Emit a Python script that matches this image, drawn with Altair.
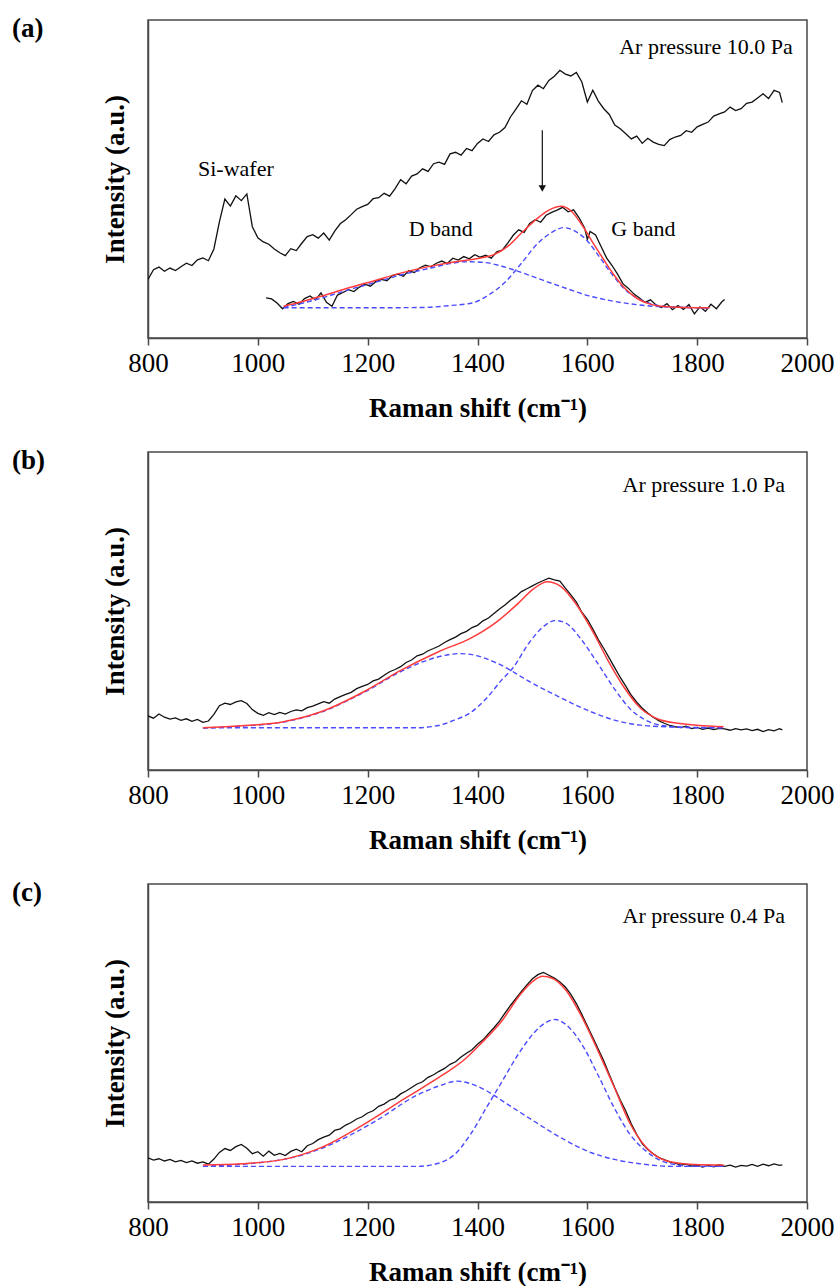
import altair as alt
import pandas as pd

# ---------------- Panel (a): Ar pressure 10.0 Pa ----------------
a_top_x = [800, 810, 820, 830, 840, 850, 860, 870, 880, 890, 900, 910, 920, 930, 940, 950, 960, 970, 980, 990,
           1000, 1010, 1020, 1030, 1040, 1050, 1060, 1070, 1080, 1090, 1100, 1110, 1120, 1130, 1140, 1150, 1160,
           1170, 1180, 1190, 1200, 1210, 1220, 1230, 1240, 1250, 1260, 1270, 1280, 1290, 1300, 1310, 1320, 1330,
           1340, 1350, 1360, 1370, 1380, 1390, 1400, 1410, 1420, 1430, 1440, 1450, 1460, 1470, 1480, 1490, 1500,
           1510, 1520, 1530, 1540, 1550, 1560, 1570, 1580, 1590, 1600, 1610, 1620, 1630, 1640, 1650, 1660, 1670,
           1680, 1690, 1700, 1710, 1720, 1730, 1740, 1750, 1760, 1770, 1780, 1790, 1800, 1810, 1820, 1830, 1840,
           1850, 1860, 1870, 1880, 1890, 1900, 1910, 1920, 1930, 1940, 1950, 1955]
a_top_y = [18.4, 21.5, 22.3, 21.0, 22.0, 21.2, 22.4, 23.5, 22.8, 24.6, 25.2, 24.3, 28.0, 36.5, 43.7, 41.5, 44.7,
           43.2, 45.3, 35.0, 31.5, 30.2, 29.5, 28.0, 26.8, 25.9, 28.1, 27.5, 29.8, 31.9, 32.5, 31.4, 33.0, 30.8,
           33.6, 35.9, 37.2, 38.8, 40.5, 41.3, 42.0, 43.8, 44.1, 45.5, 44.6, 47.0, 49.8, 48.5, 50.9, 51.6, 53.2,
           52.4, 54.8, 55.3, 54.6, 57.9, 58.4, 57.5, 59.6, 58.9, 61.2, 62.6, 61.8, 63.9, 64.7, 66.2, 69.5, 72.0,
           74.6, 73.5, 77.8, 79.5, 78.4, 81.0, 82.3, 84.2, 83.0, 82.4, 83.5, 80.5, 74.2, 77.9, 74.5, 72.1, 70.3,
           67.0, 65.8, 64.2, 62.6, 63.5, 61.2, 62.8, 61.6, 60.9, 60.5, 62.4, 63.2, 63.7, 65.2, 64.7, 66.4, 67.2,
           67.9, 69.8, 70.5, 71.1, 72.6, 71.5, 72.1, 73.8, 74.2, 75.5, 76.8, 75.3, 77.9, 77.2, 74.0]

a_low_x = [1015, 1025, 1035, 1045, 1055, 1065, 1075, 1085, 1095, 1105, 1115, 1125, 1135, 1145, 1155, 1165, 1175,
           1185, 1195, 1205, 1215, 1225, 1235, 1245, 1255, 1265, 1275, 1285, 1295, 1305, 1315, 1325, 1335, 1345,
           1355, 1365, 1375, 1385, 1395, 1405, 1415, 1425, 1435, 1445, 1455, 1465, 1475, 1485, 1495, 1505, 1515,
           1525, 1535, 1545, 1555, 1565, 1575, 1585, 1595, 1600, 1605, 1615, 1625, 1635, 1645, 1655, 1665, 1675,
           1685, 1695, 1705, 1715, 1725, 1735, 1745, 1755, 1765, 1775, 1785, 1795, 1805, 1815, 1825, 1835, 1845,
           1850]
a_low_y = [12.6, 12.3, 11.0, 9.2, 10.8, 11.5, 10.6, 12.4, 13.2, 12.0, 14.2, 11.2, 10.0, 13.5, 14.3, 15.2, 14.6,
           16.0, 16.9, 16.3, 17.8, 18.4, 18.0, 19.6, 20.1, 19.4, 21.2, 20.6, 22.1, 22.9, 22.4, 23.5, 24.2, 23.4,
           25.1, 24.5, 25.6, 24.9, 26.2, 25.4, 26.0, 25.1, 27.1, 27.6, 29.8, 32.3, 34.0, 33.2, 36.0, 37.2, 36.4,
           38.6, 39.5, 40.2, 41.1, 39.7, 40.3, 37.8, 34.6, 31.0, 33.5, 32.4, 28.8, 25.2, 22.8, 20.1, 17.0, 15.6,
           13.8, 12.6, 11.2, 12.0, 10.4, 9.6, 10.8, 8.9, 10.2, 9.0, 10.5, 7.6, 9.8, 8.4, 10.6, 9.2, 11.4, 12.1]

a_fit_x = [1047, 1080, 1115, 1160, 1212, 1260, 1315, 1360, 1400, 1430, 1455, 1480, 1509, 1530, 1552, 1570, 1590,
           1610, 1630, 1650, 1670, 1690, 1710, 1740, 1780, 1823]
a_fit_y = [10.0, 11.4, 13.1, 15.5, 18.0, 20.4, 22.6, 24.0, 25.0, 26.2, 28.8, 33.0, 37.6, 40.2, 41.4, 40.0, 35.6,
           30.0, 24.6, 19.5, 15.3, 12.5, 10.9, 9.9, 9.6, 9.5]
a_d_x = [1047, 1080, 1115, 1160, 1212, 1260, 1315, 1350, 1380, 1410, 1440, 1470, 1509, 1550, 1600, 1650, 1700,
         1750, 1823]
a_d_y = [9.6, 10.9, 12.5, 14.9, 17.4, 19.8, 22.0, 23.4, 24.0, 23.8, 22.8, 21.2, 18.8, 16.3, 13.4, 11.5, 10.3,
         9.7, 9.5]
a_g_x = [1047, 1200, 1300, 1350, 1390, 1420, 1450, 1480, 1510, 1535, 1557, 1580, 1600, 1620, 1645, 1670, 1700,
         1730, 1760, 1823]
a_g_y = [9.5, 9.5, 9.6, 10.2, 11.0, 13.5, 17.5, 23.5, 29.8, 33.2, 34.7, 33.4, 30.5, 26.0, 20.0, 15.0, 11.8,
         10.2, 9.7, 9.5]

# ---------------- Panel (b): Ar pressure 1.0 Pa ----------------
b_raw_x = [800, 810, 820, 830, 840, 850, 860, 870, 880, 890, 900, 910, 920, 930, 940, 950, 960, 970, 980, 990,
           1000, 1010, 1020, 1030, 1040, 1050, 1060, 1070, 1080, 1090, 1100, 1110, 1120, 1130, 1140, 1150, 1160,
           1170, 1180, 1190, 1200, 1210, 1220, 1230, 1240, 1250, 1260, 1270, 1280, 1290, 1300, 1310, 1320, 1330,
           1340, 1350, 1360, 1370, 1380, 1390, 1400, 1410, 1420, 1430, 1440, 1450, 1460, 1470, 1480, 1490, 1500,
           1510, 1520, 1530, 1540, 1550, 1560, 1570, 1580, 1590, 1600, 1610, 1620, 1630, 1640, 1650, 1660, 1670,
           1680, 1690, 1700, 1710, 1720, 1730, 1740, 1750, 1760, 1770, 1780, 1790, 1800, 1810, 1820, 1830, 1840,
           1850, 1860, 1870, 1880, 1890, 1900, 1910, 1920, 1930, 1940, 1950, 1955]
b_raw_y = [17.0, 16.3, 17.6, 16.6, 16.0, 16.4, 15.6, 16.1, 15.3, 15.9, 15.0, 15.4, 17.5, 20.2, 21.0, 20.6, 21.4,
           21.8, 20.9, 19.0, 17.8, 17.2, 18.0, 17.4, 18.1, 17.6, 18.4, 18.9, 18.6, 19.6, 20.1, 20.8, 21.5, 21.0,
           22.3, 23.1, 23.8, 24.4, 25.6, 26.3, 26.9, 28.0, 28.6, 29.8, 30.9, 31.6, 32.5, 33.8, 34.6, 35.9, 36.4,
           37.5, 38.2, 39.0, 40.1, 41.0, 41.8, 42.9, 43.6, 44.8, 45.5, 46.9, 47.8, 49.2, 50.6, 51.9, 53.4, 54.6,
           56.1, 57.0, 57.9, 58.8, 59.6, 60.3, 59.8, 59.4, 57.2, 55.1, 52.8, 49.6, 47.4, 44.3, 41.0, 38.2, 35.2,
           32.1, 29.1, 26.4, 23.5, 21.3, 19.4, 17.9, 16.6, 15.5, 14.7, 14.0, 13.6, 13.3, 13.8, 13.0, 13.4, 12.8,
           13.2, 12.7, 13.1, 12.9, 12.5, 13.0, 12.6, 12.9, 12.4, 12.8, 12.1, 12.7, 12.3, 13.0, 12.6]

b_fit_x = [900, 970, 1047, 1115, 1193, 1261, 1329, 1387, 1435, 1474, 1503, 1527, 1552, 1581, 1610, 1639, 1668,
           1697, 1726, 1765, 1848]
b_fit_y = [13.3, 13.9, 15.2, 18.3, 24.6, 31.4, 37.2, 41.4, 46.6, 52.4, 57.1, 59.2, 57.7, 51.8, 43.5, 34.0, 25.7,
           19.4, 16.2, 14.7, 13.6]
b_d_x = [900, 970, 1047, 1115, 1193, 1261, 1300, 1329, 1368, 1400, 1430, 1455, 1480, 1503, 1530, 1552, 1580,
         1600, 1649, 1697, 1745, 1848]
b_d_y = [13.2, 13.8, 15.1, 18.2, 24.4, 31.0, 34.0, 35.6, 36.6, 35.9, 34.0, 31.9, 29.3, 27.0, 24.6, 22.7, 20.3,
         18.8, 15.7, 14.1, 13.6, 13.3]
b_g_x = [900, 1290, 1329, 1358, 1387, 1416, 1445, 1464, 1494, 1523, 1542, 1561, 1590, 1619, 1649, 1678, 1707,
         1745, 1794, 1848]
b_g_y = [13.3, 13.3, 14.0, 15.7, 18.0, 22.5, 28.5, 32.0, 40.0, 45.5, 47.0, 46.2, 40.8, 33.5, 25.6, 19.2, 15.6,
         13.8, 13.3, 13.3]

# ---------------- Panel (c): Ar pressure 0.4 Pa ----------------
c_raw_x = b_raw_x
c_raw_y = [13.9, 13.2, 13.6, 12.9, 13.4, 12.6, 13.1, 12.4, 12.9, 12.2, 12.6, 11.9, 13.5, 15.6, 16.8, 16.2, 17.4,
           18.1, 16.9, 15.2, 15.8, 14.4, 16.0, 14.7, 15.3, 14.6, 15.9, 16.6, 15.8, 17.7, 18.4, 19.6, 20.4, 21.0,
           22.5, 23.0, 24.2, 25.0, 26.1, 26.8, 28.0, 28.7, 30.1, 30.8, 32.0, 32.6, 34.0, 34.9, 36.0, 37.1, 37.8,
           39.2, 40.0, 41.1, 42.0, 43.3, 44.1, 45.6, 46.8, 47.9, 49.6, 51.0, 52.9, 54.8, 56.9, 59.4, 61.8, 64.0,
           66.2, 68.3, 70.2, 71.5, 72.2, 71.3, 70.4, 69.2, 67.6, 65.3, 62.4, 59.0, 55.3, 51.7, 48.0, 44.3, 40.1,
           35.9, 32.1, 28.6, 24.6, 21.2, 18.4, 16.5, 15.2, 14.0, 13.3, 12.6, 12.2, 11.6, 11.9, 11.3, 11.6, 11.0,
           11.5, 11.1, 11.7, 11.2, 11.6, 11.0, 11.5, 11.3, 11.8, 11.2, 11.9, 11.4, 12.0, 11.5, 11.7]

c_fit_x = [900, 970, 1047, 1115, 1193, 1270, 1338, 1377, 1406, 1445, 1479, 1503, 1518, 1537, 1561, 1590, 1619,
           1649, 1678, 1707, 1745, 1794, 1848]
c_fit_y = [11.6, 12.0, 13.4, 17.1, 24.4, 32.8, 40.1, 44.9, 49.8, 57.1, 65.5, 69.7, 71.0, 70.3, 66.6, 58.2, 47.7,
           36.1, 24.6, 17.2, 12.9, 11.8, 11.6]
c_d_x = [900, 1047, 1115, 1212, 1290, 1330, 1363, 1406, 1455, 1503, 1552, 1600, 1649, 1697, 1755, 1848]
c_d_y = [11.2, 13.4, 16.8, 25.2, 33.6, 36.5, 38.0, 35.9, 30.7, 25.4, 20.2, 16.0, 13.4, 12.0, 11.2, 11.2]
c_g_x = [900, 1290, 1329, 1358, 1387, 1416, 1445, 1474, 1503, 1523, 1542, 1561, 1590, 1619, 1649, 1678, 1707,
         1745, 1794, 1848]
c_g_y = [11.2, 11.2, 12.2, 14.9, 21.2, 29.6, 38.0, 46.4, 53.2, 56.3, 57.4, 55.8, 49.6, 40.1, 29.6, 21.2, 16.0,
         12.3, 11.2, 11.2]

# ---------------- Text ----------------
panel_labels = ["(a)", "(b)", "(c)"]
pressure_texts = ["Ar pressure 10.0 Pa", "Ar pressure 1.0 Pa", "Ar pressure 0.4 Pa"]
pressure_pos = [(1974, 91.5), (1960, 89.6), (1960, 89.9)]
a_notes = ["Si-wafer", "D band", "G band"]
a_notes_x = [960, 1333, 1702]
a_notes_y = [53.2, 34.2, 34.2]
arrow_x = [1518]
arrow_top = [65.3]
arrow_bottom = [47.0]
x_ticks = [800, 1000, 1200, 1400, 1600, 1800, 2000]

SERIF = "Liberation Serif"
W, H = 659, 318
BLACK = "#111111"
RED = "#ff3b3b"
BLUE = "#4b4bff"
FRAME = "#4a4a4a"

xscale = alt.Scale(domain=[800, 2000], nice=False, zero=False)
yscale = alt.Scale(domain=[0, 100], nice=False, zero=False)

xaxis = alt.Axis(values=x_ticks, title="Raman shift (cm⁻¹)", labelFont=SERIF, labelFontSize=27,
                 labelColor="black", labelPadding=5, tickSize=7, tickColor=FRAME, tickWidth=1.5,
                 labelFlush=False, labelOverlap=False, grid=False, domainColor=FRAME, domainWidth=1.5,
                 titleFont=SERIF, titleFontSize=27, titleFontWeight="bold", titleColor="black",
                 titlePadding=19, format="d")
yaxis = alt.Axis(labels=False, ticks=False, grid=False, title="Intensity (a.u.)", titleFont=SERIF,
                 titleFontSize=27, titleFontWeight="bold", titleColor="black", titlePadding=19,
                 domainColor=FRAME, domainWidth=1.5)


def enc_xy(xfield, yfield):
    return dict(x=alt.X(xfield, scale=xscale, axis=xaxis), y=alt.Y(yfield, scale=yscale, axis=yaxis))


def line_layer(xs, ys, color, dash=None, width=1.3, interp="linear"):
    df = pd.DataFrame({"x": xs, "y": ys})
    kw = dict(color=color, strokeWidth=width, interpolate=interp, clip=True)
    if dash:
        kw["strokeDash"] = dash
    return alt.Chart(df).mark_line(**kw).encode(**enc_xy("x:Q", "y:Q"))


def text_layer(texts, xs, ys, size=22, align="center", weight="normal"):
    df = pd.DataFrame({"t": texts, "x": xs, "y": ys})
    return alt.Chart(df).mark_text(font=SERIF, fontSize=size, align=align, baseline="middle",
                                   color="black", fontWeight=weight).encode(
        text="t:N", **enc_xy("x:Q", "y:Q"))


def label_layer(lbl):
    df = pd.DataFrame({"t": [lbl]})
    return alt.Chart(df).mark_text(font=SERIF, fontSize=27, fontWeight="bold", align="left",
                                   baseline="top", color="black").encode(
        x=alt.value(-136), y=alt.value(-4), text="t:N")


def panel(idx, raws, fit, dband, gband, extra=None):
    layers = []
    for rx, ry in raws:
        layers.append(line_layer(rx, ry, BLACK, width=1.3))
    layers.append(line_layer(dband[0], dband[1], BLUE, dash=[5, 3], width=1.4, interp="monotone"))
    layers.append(line_layer(gband[0], gband[1], BLUE, dash=[5, 3], width=1.4, interp="monotone"))
    layers.append(line_layer(fit[0], fit[1], RED, width=1.5, interp="monotone"))
    px, py = pressure_pos[idx]
    layers.append(text_layer([pressure_texts[idx]], [px], [py], size=22, align="right"))
    layers.append(label_layer(panel_labels[idx]))
    if extra:
        layers.extend(extra)
    return alt.layer(*layers).properties(width=W, height=H)


arrow_df = pd.DataFrame({"x": arrow_x, "y1": arrow_top, "y2": arrow_bottom})
arrow_rule = alt.Chart(arrow_df).mark_rule(color=BLACK, strokeWidth=1.2).encode(
    y2="y2:Q", **enc_xy("x:Q", "y1:Q"))
arrow_head = alt.Chart(arrow_df).mark_point(shape="triangle-down", filled=True, size=55, color=BLACK,
                                            opacity=1).encode(**enc_xy("x:Q", "y2:Q"))
notes = text_layer(a_notes, a_notes_x, a_notes_y, size=22)

pa = panel(0, [(a_top_x, a_top_y), (a_low_x, a_low_y)], (a_fit_x, a_fit_y), (a_d_x, a_d_y),
           (a_g_x, a_g_y), extra=[notes, arrow_rule, arrow_head])
pb = panel(1, [(b_raw_x, b_raw_y)], (b_fit_x, b_fit_y), (b_d_x, b_d_y), (b_g_x, b_g_y))
pc = panel(2, [(c_raw_x, c_raw_y)], (c_fit_x, c_fit_y), (c_d_x, c_d_y), (c_g_x, c_g_y))

chart = alt.vconcat(pa, pb, pc, spacing=114, bounds="flush").properties(
    padding={"left": 11, "top": 14, "right": 0, "bottom": 0}
).configure_view(stroke=FRAME, strokeWidth=1.5).configure_axis(
    labelFont=SERIF, titleFont=SERIF
).configure_text(font=SERIF)

chart.save("out.html", embed_options={"renderer": "svg", "actions": False})
